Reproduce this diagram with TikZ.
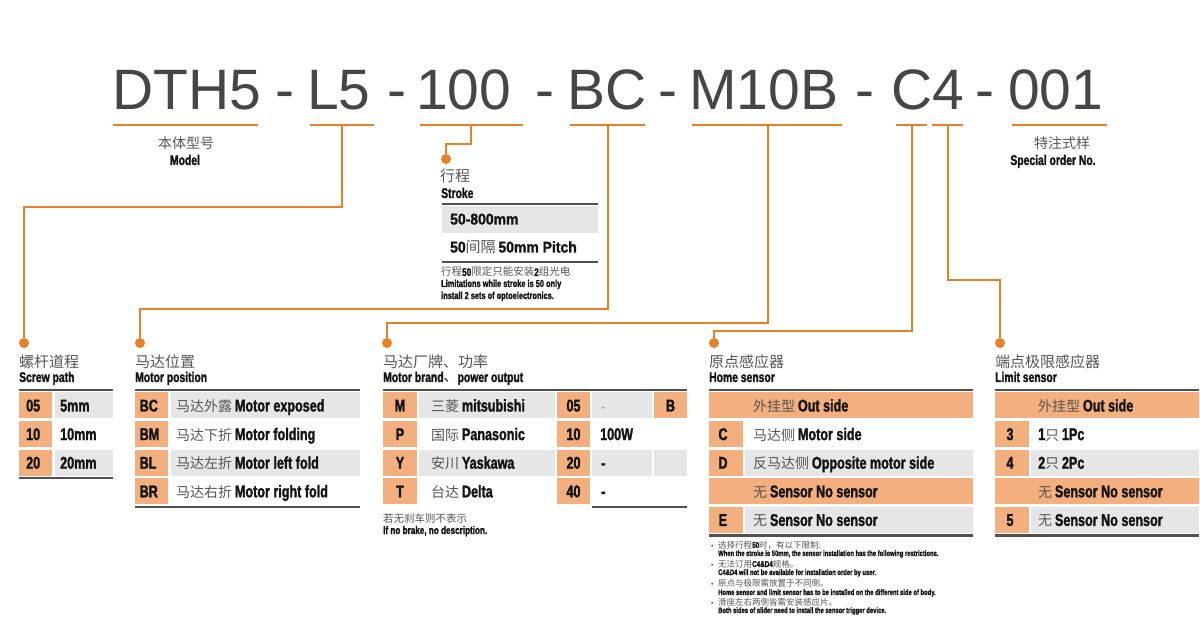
\documentclass[tikz,border=0pt]{standalone}
\usepackage{fontspec}
\setmainfont{Liberation Sans}
\newfontfamily\cjk{Noto Sans CJK SC}
\newfontfamily\cnd[FakeStretch=0.74,BoldFeatures={FakeBold=1.6}]{Liberation Sans}
\newfontfamily\cndw[FakeStretch=0.9,BoldFeatures={FakeBold=1.4}]{Liberation Sans}
\definecolor{orl}{RGB}{232,128,38}
\definecolor{peach}{RGB}{243,176,126}
\definecolor{lgray}{RGB}{230,230,230}
\definecolor{rulec}{RGB}{80,80,80}
\definecolor{titlec}{RGB}{70,70,70}
\definecolor{cngray}{RGB}{85,85,85}
\definecolor{entext}{RGB}{20,20,20}
\newcommand\fsz[1]{\fontsize{#1}{#1}\selectfont}
\newcommand\ZH[2][14]{{\cjk\fsz{#1}\color{cngray}#2}}
\newcommand\EN[2][17]{{\cnd\bfseries\fsz{#1}\color{entext}#2}}
\newcommand\ENW[2][15.5]{{\cndw\bfseries\fsz{#1}\color{entext}#2}}
\tikzset{
  ttl/.style={anchor=base west,inner sep=0,font=\fsz{57},text=titlec},
  dsh/.style={anchor=base,inner sep=0,font=\fsz{57},text=titlec},
  orline/.style={draw=orl,line width=2.4},
  rulel/.style={draw=rulec,line width=2.6},
  dot/.style={circle,fill=orl,inner sep=0,minimum size=10},
  tx/.style={anchor=base west,inner sep=0},
  tc/.style={anchor=base,inner sep=0},
}
\begin{document}
\begin{tikzpicture}[x=1pt,y=-1pt]
\useasboundingbox (0,0) rectangle (1200,617);
\fill[white] (0,0) rectangle (1200,617);
% ---------- title ----------
\node[ttl] (tDTH) at (112,110) {DTH5};
\node[dsh] (h1) at (285,110) {-};
\node[ttl] (tL5) at (307,110) {L5};
\node[dsh] (h2) at (397,110) {-};
\node[ttl] (t100) at (416,110) {100};
\node[dsh] (h3) at (545,110) {-};
\node[ttl] (tBC) at (567,110) {BC};
\node[dsh] (h4) at (668,110) {-};
\node[ttl] (tM) at (689,110) {M10B};
\node[dsh] (h5) at (865,110) {-};
\node[ttl] (tC4) at (891,110) {C4};
\node[dsh] (h6) at (985,110) {-};
\node[ttl] (t001) at (1008,110) {001};
% underlines
\draw[orline] (113,125) -- (258,125);
\draw[orline] (310,125) -- (374,125);
\draw[orline] (420,125) -- (523,125);
\draw[orline] (570,125) -- (645,125);
\draw[orline] (692,125) -- (842,125);
\draw[orline] (896,125) -- (927,125);
\draw[orline] (932,125) -- (963,125);
\draw[orline] (1012,125) -- (1107,125);
\coordinate (uL5) at (342,125);
\coordinate (u100) at (471,125);
\coordinate (uBC) at (608,125);
\coordinate (uM) at (768,125);
\coordinate (uC) at (912,125);
\coordinate (u4) at (948,125);
% top labels
\node[tc] (lmodel) at (186,149) {\ZH{本体型号}};
\node[tc] (lmodele) at (185,165) {\EN[14]{Model}};
\node[tc] (lspec) at (1062,149) {\ZH{特注式样}};
\node[tc] (lspece) at (1053,165) {\EN[14]{Special order No.}};
% dots
\node[dot] (dS) at (446,159) {};
\node[dot] (d1) at (24,343) {};
\node[dot] (d2) at (140,343) {};
\node[dot] (d3) at (387,343) {};
\node[dot] (d4) at (714,343) {};
\node[dot] (d5) at (1000,343) {};
% connectors
\draw[orline] (u100) -- ++(0,19) -| (dS);
\draw[orline] (uL5) -- ++(0,82) -| (d1);
\draw[orline] (uBC) -- ++(0,184) -| (d2);
\draw[orline] (uM) -- ++(0,198) -| (d3);
\draw[orline] (uC) -- ++(0,206) -| (d4);
\draw[orline] (u4) -- ++(0,155) -| (d5);
% ---------- stroke ----------
\node[tx] (sh1) at (440,182) {\ZH[15]{行程}};
\node[tx] (sh2) at (441,198) {\EN[14]{Stroke}};
\draw[rulel] (442,204) -- (598,204);
\fill[lgray] (442,206) rectangle (598,233);
\node[tx] (s1) at (450,224.5) {\ENW{50-800mm}};
\node[tx] (s2) at (450,252.5) {\ENW{50}\ZH[15]{间隔} \ENW{50mm Pitch}};
\draw[draw=rulec,line width=2] (442,262) -- (598,262);
\node[tx] (sn1) at (441,276) {\ZH[10.5]{行程}\EN[11]{50}\ZH[10.5]{限定只能安装}\EN[11]{2}\ZH[10.5]{组光电}};
\node[tx] (sn2) at (441,287) {\EN[10]{Limitations while stroke is 50 only}};
\node[tx] (sn3) at (441,299) {\EN[10]{install 2 sets of optoelectronics.}};
% ---------- screw path ----------
\node[tx] (ah1) at (19,368) {\ZH[15]{螺杆道程}};
\node[tx] (ah2) at (19,382) {\EN[14]{Screw path}};
\draw[rulel] (19,390) -- (113,390);
\fill[peach] (19,392.5) rectangle (52,418.5);
\fill[peach] (19,421.1) rectangle (52,447.1);
\fill[peach] (19,449.7) rectangle (52,475.7);
\fill[lgray] (54.5,392.5) rectangle (113,418.5);
\fill[lgray] (54.5,449.7) rectangle (113,475.7);
\draw[rulel] (19,478) -- (113,478);
\node[tx] (a1k) at (26,411.5) {\EN{05}};
\node[tx] (a2k) at (26,440.1) {\EN{10}};
\node[tx] (a3k) at (26,468.7) {\EN{20}};
\node[tx] (a1v) at (60,411.5) {\EN{5mm}};
\node[tx] (a2v) at (60,440.1) {\EN{10mm}};
\node[tx] (a3v) at (60,468.7) {\EN{20mm}};
% ---------- motor position ----------
\node[tx] (bh1) at (135,368) {\ZH[15]{马达位置}};
\node[tx] (bh2) at (135,382) {\EN[14]{Motor position}};
\draw[rulel] (135,390) -- (360,390);
\fill[peach] (135,392.5) rectangle (168,418.5);
\fill[peach] (135,421.1) rectangle (168,447.1);
\fill[peach] (135,449.7) rectangle (168,475.7);
\fill[peach] (135,478.3) rectangle (168,504.3);
\fill[lgray] (170.5,392.5) rectangle (360,418.5);
\fill[lgray] (170.5,449.7) rectangle (360,475.7);
\draw[rulel] (135,507) -- (360,507);
\node[tx] (b1k) at (139.5,411.5) {\EN{BC}};
\node[tx] (b2k) at (139.5,440.1) {\EN{BM}};
\node[tx] (b3k) at (139.5,468.7) {\EN{BL}};
\node[tx] (b4k) at (139.5,497.3) {\EN{BR}};
\node[tx] (b1v) at (176,411.5) {\ZH{马达外露} \EN{Motor exposed}};
\node[tx] (b2v) at (176,440.1) {\ZH{马达下折} \EN{Motor folding}};
\node[tx] (b3v) at (176,468.7) {\ZH{马达左折} \EN{Motor left fold}};
\node[tx] (b4v) at (176,497.3) {\ZH{马达右折} \EN{Motor right fold}};
% ---------- motor brand ----------
\node[tx] (ch1) at (383,368) {\ZH[15]{马达厂牌、功率}};
\node[tx] (ch2) at (383,382) {\EN[14]{Motor brand}{\cjk\fsz{14}\color{entext}、}\EN[14]{ power output}};
\draw[rulel] (383,390) -- (687,390);
\foreach \t/\b in {392.5/418.5,421.1/447.1,449.7/475.7,478.3/504.3}{
  \fill[peach] (383,\t) rectangle (417,\b);
  \fill[peach] (557,\t) rectangle (590,\b);
}
\fill[lgray] (419,392.5) rectangle (555,418.5);
\fill[lgray] (419,449.7) rectangle (555,475.7);
\fill[lgray] (592,392.5) rectangle (652,418.5);
\fill[lgray] (592,449.7) rectangle (652,475.7);
\fill[peach] (654,392.5) rectangle (687,418.5);
\fill[lgray] (654,449.7) rectangle (687,475.7);
\draw[rulel] (592,507) -- (687,507);
\node[tc] (c1k) at (400,411.5) {\EN{M}};
\node[tc] (c2k) at (400,440.1) {\EN{P}};
\node[tc] (c3k) at (400,468.7) {\EN{Y}};
\node[tc] (c4k) at (400,497.3) {\EN{T}};
\node[tx] (c1n) at (431,411.5) {\ZH{三菱} \EN{mitsubishi}};
\node[tx] (c2n) at (431,440.1) {\ZH{国际} \EN{Panasonic}};
\node[tx] (c3n) at (431,468.7) {\ZH{安川} \EN{Yaskawa}};
\node[tx] (c4n) at (431,497.3) {\ZH{台达} \EN{Delta}};
\node[tc] (c1p) at (573.5,411.5) {\EN{05}};
\node[tc] (c2p) at (573.5,440.1) {\EN{10}};
\node[tc] (c3p) at (573.5,468.7) {\EN{20}};
\node[tc] (c4p) at (573.5,497.3) {\EN{40}};
\node[tx] (c1v) at (601,411.5) {{\fsz{12}\color{gray}-}};
\node[tx] (c2v) at (600,440.1) {\EN{100W}};
\node[tx] (c3v) at (601,468.7) {\EN{-}};
\node[tx] (c4v) at (601,497.3) {\EN{-}};
\node[tc] (c1b) at (670.5,411.5) {\EN{B}};
\node[tx] (cn1) at (383,522) {\ZH[10.5]{若无刹车则不表示}};
\node[tx] (cn2) at (383,534) {\EN[11]{If no brake, no description.}};
% ---------- home sensor ----------
\node[tx] (dh1) at (709,368) {\ZH[15]{原点感应器}};
\node[tx] (dh2) at (709,382) {\EN[14]{Home sensor}};
\draw[rulel] (709,390) -- (973,390);
\fill[peach] (709,392.5) rectangle (973,418.5);
\fill[peach] (709,421.1) rectangle (743,447.1);
\fill[peach] (709,449.7) rectangle (743,475.7);
\fill[peach] (709,478.3) rectangle (973,504.3);
\fill[peach] (709,506.9) rectangle (743,532.9);
\fill[lgray] (745,449.7) rectangle (973,475.7);
\fill[lgray] (745,506.9) rectangle (973,532.9);
\draw[rulel] (709,535.5) -- (973,535.5);
\node[tx] (d1v) at (753,411.5) {\ZH{外挂型} \EN{Out side}};
\node[tc] (d2k) at (723,440.1) {\EN{C}};
\node[tx] (d2v) at (753,440.1) {\ZH{马达侧} \EN{Motor side}};
\node[tc] (d3k) at (723,468.7) {\EN{D}};
\node[tx] (d3v) at (753,468.7) {\ZH{反马达侧} \EN{Opposite motor side}};
\node[tx] (d4v) at (753,497.3) {\ZH{无} \EN{Sensor No sensor}};
\node[tc] (d5k) at (723,525.9) {\EN{E}};
\node[tx] (d5v) at (753,525.9) {\ZH{无} \EN{Sensor No sensor}};
% notes
\node[tx] (n1b) at (711,548) {{\fsz{7}\color{cngray}•}};
\node[tx] (n1a) at (718,548) {\ZH[8.5]{选择行程}\EN[8.5]{50}\ZH[8.5]{时，有以下限制:}};
\node[tx] (n1e) at (718,556) {\EN[7.9]{When the stroke is 50mm, the sensor installation has the following restrictions.}};
\node[tx] (n2b) at (711,567) {{\fsz{7}\color{cngray}•}};
\node[tx] (n2a) at (718,567) {\ZH[8.5]{无法订用}\EN[8.5]{C4\&D4}\ZH[8.5]{规格。}};
\node[tx] (n2e) at (718,575) {\EN[7.9]{C4\&D4 will not be available for installation order by user.}};
\node[tx] (n3b) at (711,586) {{\fsz{7}\color{cngray}•}};
\node[tx] (n3a) at (718,586) {\ZH[8.5]{原点与极限需放置于不同侧。}};
\node[tx] (n3e) at (718,595) {\EN[7.9]{Home sensor and limit sensor has to be installed on the different side of body.}};
\node[tx] (n4b) at (711,605) {{\fsz{7}\color{cngray}•}};
\node[tx] (n4a) at (718,605) {\ZH[8.5]{滑座左右两侧皆需安装感应片。}};
\node[tx] (n4e) at (718,613) {\EN[7.9]{Both sides of slider need to install the sensor trigger device.}};
% ---------- limit sensor ----------
\node[tx] (eh1) at (995,368) {\ZH[15]{端点极限感应器}};
\node[tx] (eh2) at (995,382) {\EN[14]{Limit sensor}};
\draw[rulel] (995,390) -- (1199,390);
\fill[peach] (995,392.5) rectangle (1199,418.5);
\fill[peach] (995,421.1) rectangle (1029,447.1);
\fill[peach] (995,449.7) rectangle (1029,475.7);
\fill[peach] (995,478.3) rectangle (1199,504.3);
\fill[peach] (995,506.9) rectangle (1029,532.9);
\fill[lgray] (1031,449.7) rectangle (1199,475.7);
\fill[lgray] (1031,506.9) rectangle (1199,532.9);
\draw[rulel] (995,535.5) -- (1199,535.5);
\node[tx] (e1v) at (1038,411.5) {\ZH{外挂型} \EN{Out side}};
\node[tc] (e2k) at (1010,440.1) {\EN{3}};
\node[tx] (e2v) at (1038,440.1) {\EN{1}\ZH{只} \EN{1Pc}};
\node[tc] (e3k) at (1010,468.7) {\EN{4}};
\node[tx] (e3v) at (1038,468.7) {\EN{2}\ZH{只} \EN{2Pc}};
\node[tx] (e4v) at (1038,497.3) {\ZH{无} \EN{Sensor No sensor}};
\node[tc] (e5k) at (1010,525.9) {\EN{5}};
\node[tx] (e5v) at (1038,525.9) {\ZH{无} \EN{Sensor No sensor}};
\end{tikzpicture}
\end{document}
